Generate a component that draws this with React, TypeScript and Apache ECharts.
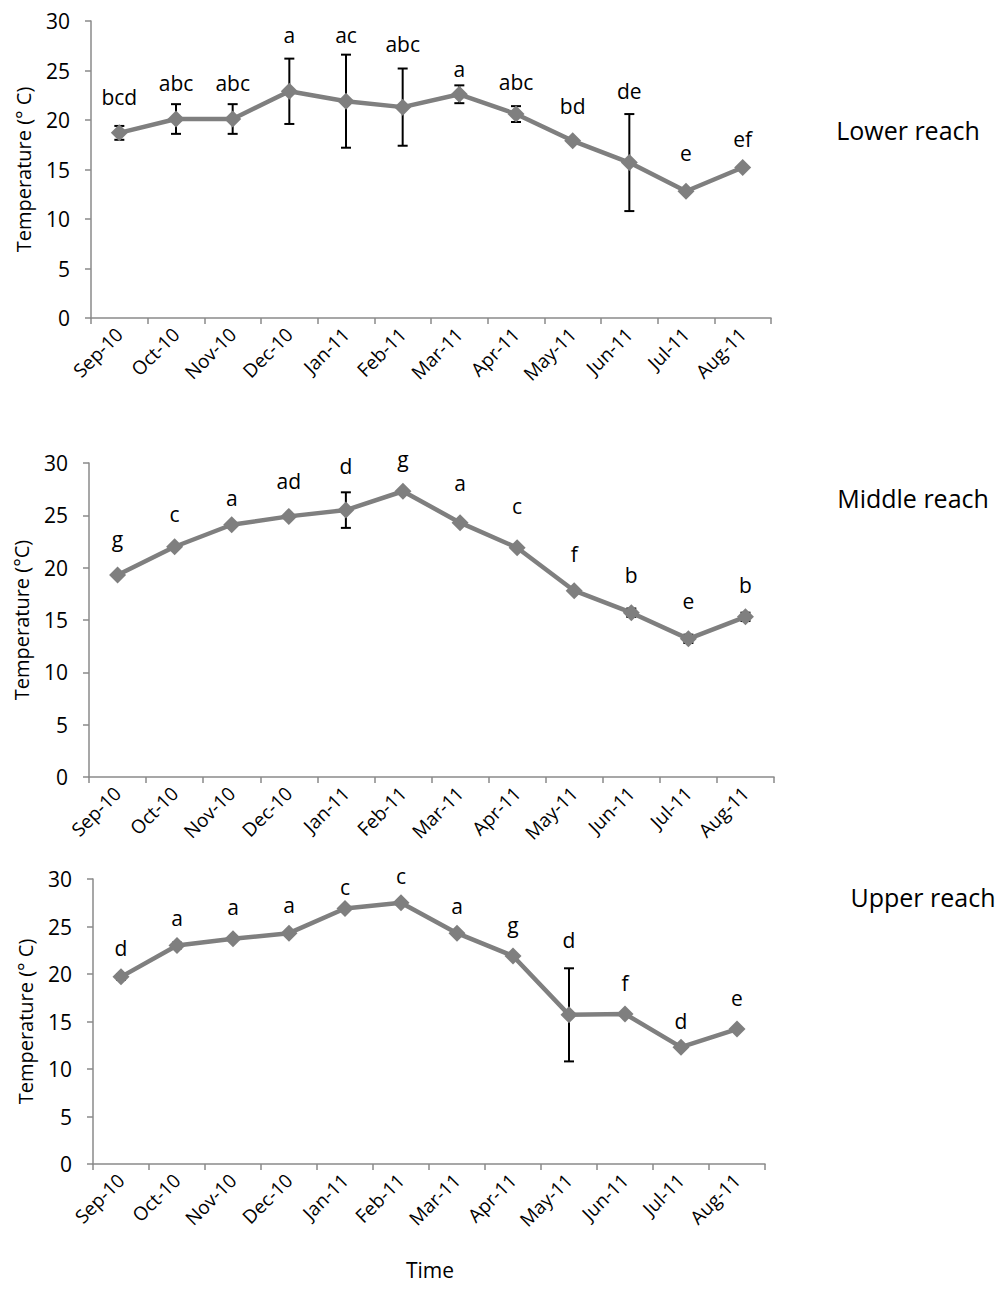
import React, { useEffect, useRef } from "react";
import * as echarts from "echarts";

// Monthly sampling periods
const months = [
  "Sep-10", "Oct-10", "Nov-10", "Dec-10", "Jan-11", "Feb-11",
  "Mar-11", "Apr-11", "May-11", "Jun-11", "Jul-11", "Aug-11",
];

// Lower reach: mean water temperature (°C), error (±), significance letters
const lowerMean = [18.7, 20.1, 20.1, 22.9, 21.9, 21.3, 22.6, 20.6, 17.9, 15.7, 12.8, 15.2];
const lowerErr = [0.7, 1.5, 1.5, 3.3, 4.7, 3.9, 0.9, 0.8, 0, 4.9, 0, 0];
const lowerLetters = ["bcd", "abc", "abc", "a", "ac", "abc", "a", "abc", "bd", "de", "e", "ef"];

// Middle reach
const middleMean = [19.3, 22.0, 24.1, 24.9, 25.5, 27.3, 24.3, 21.9, 17.8, 15.7, 13.2, 15.3];
const middleErr = [0, 0, 0, 0, 1.7, 0, 0, 0, 0, 0.4, 0.4, 0.4];
const middleLetters = ["g", "c", "a", "ad", "d", "g", "a", "c", "f", "b", "e", "b"];

// Upper reach
const upperMean = [19.7, 23.0, 23.7, 24.3, 26.9, 27.5, 24.3, 21.9, 15.7, 15.8, 12.3, 14.2];
const upperErr = [0.3, 0.3, 0, 0, 0, 0, 0, 0, 4.9, 0, 0, 0];
const upperLetters = ["d", "a", "a", "a", "c", "c", "a", "g", "d", "f", "d", "e"];

// Y-axis ticks
const yMin = 0;
const yMax = 30;
const yStep = 5;

// ---- layout (pixels) ----
const FONT = "'Open Sans', 'Noto Sans', sans-serif";
const AXIS_COLOR = "#8a8a8a";
const LINE_COLOR = "#7f7f7f";

const panels = [
  {
    mean: lowerMean, err: lowerErr, letters: lowerLetters,
    yName: "Temperature (° C)", title: "Lower reach",
    grid: { left: 91, top: 21, width: 680, height: 297 },
    titlePos: [908, 130],
    letterGap: [29, 21, 21, 24, 20, 25, 16, 24, 35, 23, 38, 29],
  },
  {
    mean: middleMean, err: middleErr, letters: middleLetters,
    yName: "Temperature (°C)", title: "Middle reach",
    grid: { left: 89, top: 463, width: 685, height: 314 },
    titlePos: [913, 498],
    letterGap: [36, 33, 27, 35, 26, 32, 40, 42, 37, 33, 34, 28],
  },
  {
    mean: upperMean, err: upperErr, letters: upperLetters,
    yName: "Temperature (° C)", title: "Upper reach",
    grid: { left: 93, top: 879, width: 672, height: 285 },
    titlePos: [923, 897],
    letterGap: [26, 25, 32, 28, 21, 27, 27, 31, 28, 31, 26, 31],
  },
];

function buildOption() {
  const grid: any[] = [];
  const xAxis: any[] = [];
  const yAxis: any[] = [];
  const series: any[] = [];
  const graphic: any[] = [];

  panels.forEach((p, k) => {
    grid.push({ ...p.grid, containLabel: false });

    xAxis.push({
      type: "category",
      gridIndex: k,
      data: months,
      boundaryGap: true,
      axisLine: { show: true, lineStyle: { color: AXIS_COLOR, width: 1.5 } },
      axisTick: { show: true, alignWithLabel: false, length: 6, lineStyle: { color: AXIS_COLOR, width: 1.5 } },
      axisLabel: {
        rotate: 45,
        interval: 0,
        margin: 13,
        fontSize: 19,
        fontFamily: FONT,
        color: "#000",
      },
      splitLine: { show: false },
    });

    yAxis.push({
      type: "value",
      gridIndex: k,
      min: yMin,
      max: yMax,
      interval: yStep,
      name: p.yName,
      nameLocation: "middle",
      nameGap: 58,
      nameTextStyle: { fontSize: 20, fontFamily: FONT, color: "#000" },
      axisLine: { show: true, lineStyle: { color: AXIS_COLOR, width: 1.5 } },
      axisTick: { show: true, length: 6, lineStyle: { color: AXIS_COLOR, width: 1.5 } },
      axisLabel: { fontSize: 21, fontFamily: FONT, color: "#000", margin: 21 },
      splitLine: { show: false },
    });

    // Error bars (drawn beneath the markers)
    series.push({
      type: "custom",
      xAxisIndex: k,
      yAxisIndex: k,
      clip: false,
      z: 1,
      data: p.mean.map((m, i) => [i, m, p.err[i]]),
      renderItem: (params: any, api: any) => {
        const i = api.value(0);
        const m = api.value(1);
        const e = api.value(2);
        if (!e) return null;
        const top = api.coord([i, m + e]);
        const bot = api.coord([i, m - e]);
        const cap = 5;
        const style = { stroke: "#000", lineWidth: 2 };
        return {
          type: "group",
          children: [
            { type: "line", shape: { x1: top[0], y1: top[1], x2: bot[0], y2: bot[1] }, style },
            { type: "line", shape: { x1: top[0] - cap, y1: top[1], x2: top[0] + cap, y2: top[1] }, style },
            { type: "line", shape: { x1: bot[0] - cap, y1: bot[1], x2: bot[0] + cap, y2: bot[1] }, style },
          ],
        };
      },
    });

    // Mean temperature line with diamond markers
    series.push({
      type: "line",
      xAxisIndex: k,
      yAxisIndex: k,
      data: p.mean,
      symbol: "diamond",
      symbolSize: 17,
      lineStyle: { color: LINE_COLOR, width: 4.5 },
      itemStyle: { color: LINE_COLOR },
      z: 2,
    });

    // Significance letters above each point / error bar
    series.push({
      type: "custom",
      xAxisIndex: k,
      yAxisIndex: k,
      clip: false,
      z: 4,
      data: p.mean.map((m, i) => [i, m + p.err[i]]),
      renderItem: (params: any, api: any) => {
        const i = api.value(0);
        const pt = api.coord([i, api.value(1)]);
        return {
          type: "text",
          x: pt[0],
          y: pt[1] - p.letterGap[i],
          style: {
            text: p.letters[i],
            fill: "#000",
            fontSize: 21,
            fontFamily: FONT,
            align: "center",
            verticalAlign: "middle",
          },
        };
      },
    });

    graphic.push({
      type: "text",
      x: p.titlePos[0],
      y: p.titlePos[1],
      style: {
        text: p.title,
        fill: "#000",
        fontSize: 25,
        fontFamily: FONT,
        align: "center",
        verticalAlign: "middle",
      },
    });
  });

  graphic.push({
    type: "text",
    x: 430,
    y: 1270,
    style: {
      text: "Time",
      fill: "#000",
      fontSize: 21,
      fontFamily: FONT,
      align: "center",
      verticalAlign: "middle",
    },
  });

  return {
    animation: false,
    backgroundColor: "#fff",
    grid,
    xAxis,
    yAxis,
    series,
    graphic,
  };
}

export default function App() {
  const ref = useRef<HTMLDivElement>(null);

  useEffect(() => {
    if (!ref.current) return;
    const chart = echarts.init(ref.current, undefined, { renderer: "svg" });
    chart.setOption(buildOption());
    return () => chart.dispose();
  }, []);

  return (
    <div
      ref={ref}
      style={{ position: "absolute", left: 0, top: 0, width: 1002, height: 1292 }}
    />
  );
}
